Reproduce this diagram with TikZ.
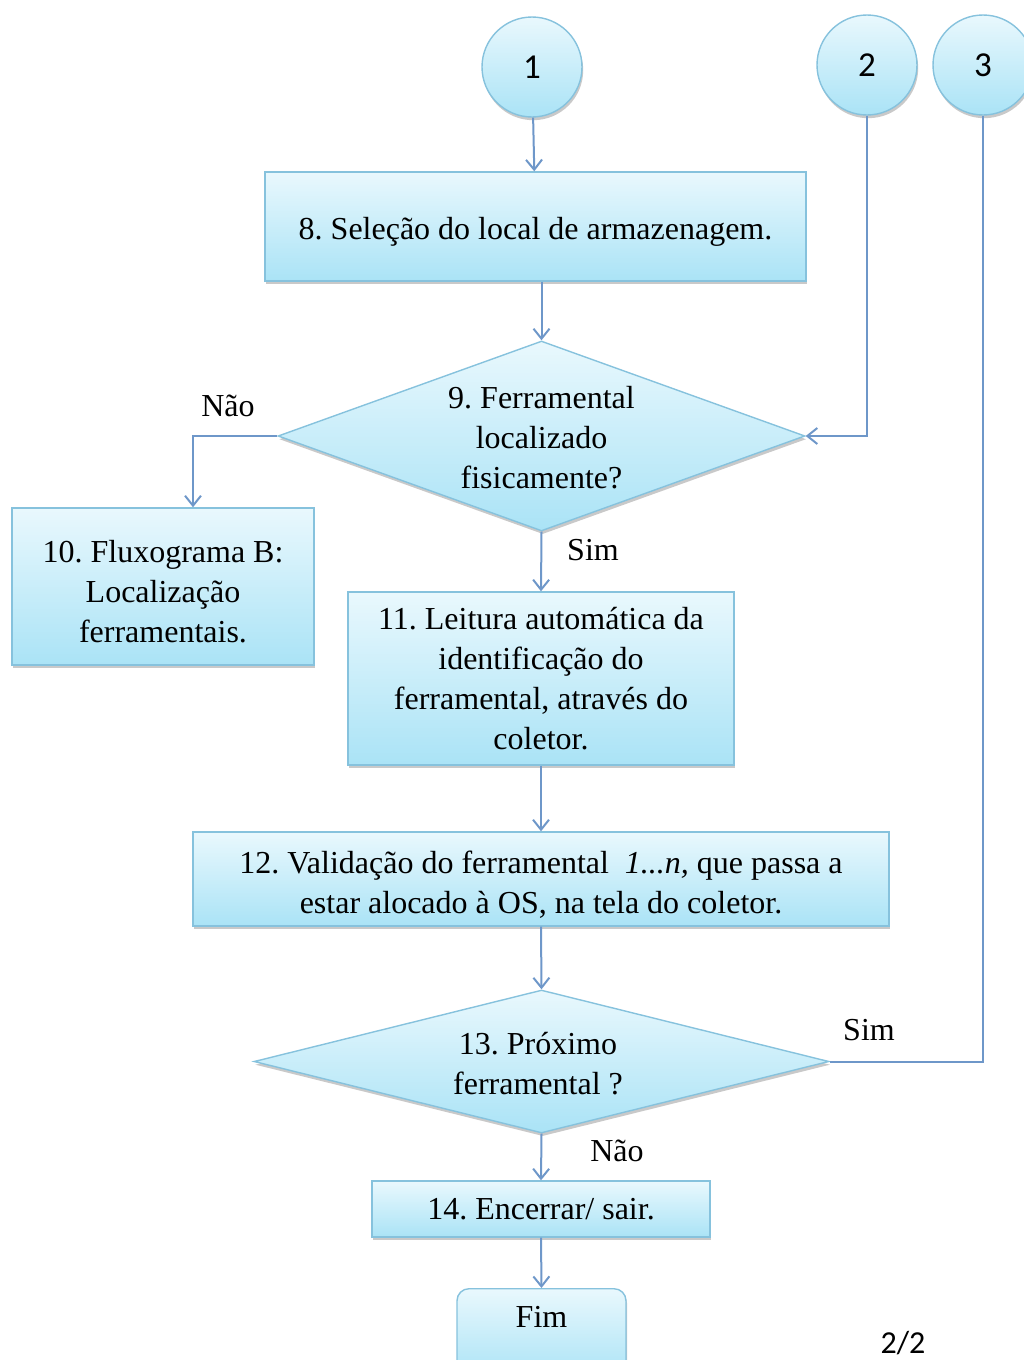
\documentclass[tikz,border=0pt]{standalone}
\usepackage{fontspec}
\setmainfont{Liberation Serif}
\newfontfamily\numfont{Carlito}
\usetikzlibrary{shapes.geometric,arrows.meta,shadows}
\definecolor{fillTop}{HTML}{E9F8FD}
\definecolor{fillBot}{HTML}{AAE3F6}
\definecolor{edge}{HTML}{86C2DD}
\definecolor{flow}{HTML}{6E97C9}
% taller first line, so that box text sits a little low
\newcommand\leadstrut{\rule{0pt}{16.5pt}}
\tikzset{
  every node/.style={font=\fontsize{16}{20}\selectfont},
  shadowed/.style={drop shadow={shadow xshift=0.6pt,shadow yshift=-1.6pt,opacity=0.3,fill=black!70}},
  stepbox/.style={draw=edge,line width=0.7pt,top color=fillTop,bottom color=fillBot,
    shadowed,align=center,inner sep=3pt},
  decision/.style={stepbox,diamond,inner sep=0pt},
  caption/.style={align=center,inner sep=0pt},
  connector/.style={circle,draw=edge,line width=0.7pt,top color=fillTop,bottom color=fillBot,
    shadowed,minimum size=50pt,inner sep=0pt,font=\numfont\fontsize{17.5}{17.5}\selectfont},
  flowline/.style={draw=flow,line width=1pt},
  arrowline/.style={flowline,-{Straight Barb[length=5pt,width=8pt,line width=1pt]}},
  tag/.style={inner sep=0pt}
}
\begin{document}
\frenchspacing
\begin{tikzpicture}[x=0.5pt,y=-0.5pt]
\useasboundingbox (0,0) rectangle (1023,1360);

% off-page connectors
\node[connector] (c1) at (532,67) {1};
\node[connector] (c2) at (867,65) {2};
\node[connector] (c3) at (983,65) {3};

% process steps
\node[stepbox,minimum width=270.5pt,minimum height=54.5pt] (b8) at (535.5,226.5)
  {\leadstrut 8. Seleção do local de armazenagem.};
\node[decision,minimum width=263.5pt,minimum height=95pt] (d9) at (541.5,436) {};
\node[caption] (t9) at (541.5,438) {9. Ferramental\\localizado\\fisicamente?};
\node[stepbox,minimum width=151pt,minimum height=78.5pt] (b10) at (163,586.5)
  {\leadstrut 10. Fluxograma B:\\Localização\\ferramentais.};
\node[stepbox,minimum width=193pt,minimum height=86.5pt] (b11) at (541,678.5)
  {11. Leitura automática da\\identificação do\\ferramental, através do\\coletor.};
\node[stepbox,minimum width=348pt,minimum height=47pt] (b12) at (541,879)
  {\leadstrut 12. Validação do ferramental \ \textit{1...n,} que passa a\\estar alocado à OS, na tela do coletor.};
\node[decision,minimum width=287.5pt,minimum height=71.5pt] (d13) at (541.5,1061.5) {};
\node[caption] (t13) at (538,1064) {13. Próximo\\ferramental ?};
\node[stepbox,minimum width=169pt,minimum height=28pt] (b14) at (541,1209)
  {14. Encerrar/ sair.};
\node[stepbox,rounded corners=6pt,anchor=north,minimum width=84.5pt,inner ysep=0pt,
  text height=19.5pt,text depth=25.5pt] (fim) at (541.5,1288) {Fim};

% flow
\draw[arrowline] (c1) -- (b8);
\draw[arrowline] (b8.south -| d9.north) -- (d9.north);
\draw[arrowline] (d9.west) -| ([xshift=15pt]b10.north);
\draw[arrowline] (c2.south) |- (d9.east);
\draw[arrowline] (d9.south) -- (b11.north);
\draw[arrowline] (b11.south) -- (b12.north);
\draw[arrowline] (b12.south) -- (d13.north);
\draw[flowline] (d13.east) -| (c3.south);
\draw[arrowline] (d13.south) -- (b14.north);
\draw[arrowline] (b14.south) -- (fim.north);

% branch labels
\node[tag] (n9) at (228,406) {Não};
\node[tag] (s9) at (593,550) {Sim};
\node[tag] (s13) at (869,1030) {Sim};
\node[tag] (n13) at (617,1151) {Não};
\node[tag,font=\numfont\fontsize{16}{16}\selectfont] (pg) at (903,1343) {2/2};
\end{tikzpicture}
\end{document}
